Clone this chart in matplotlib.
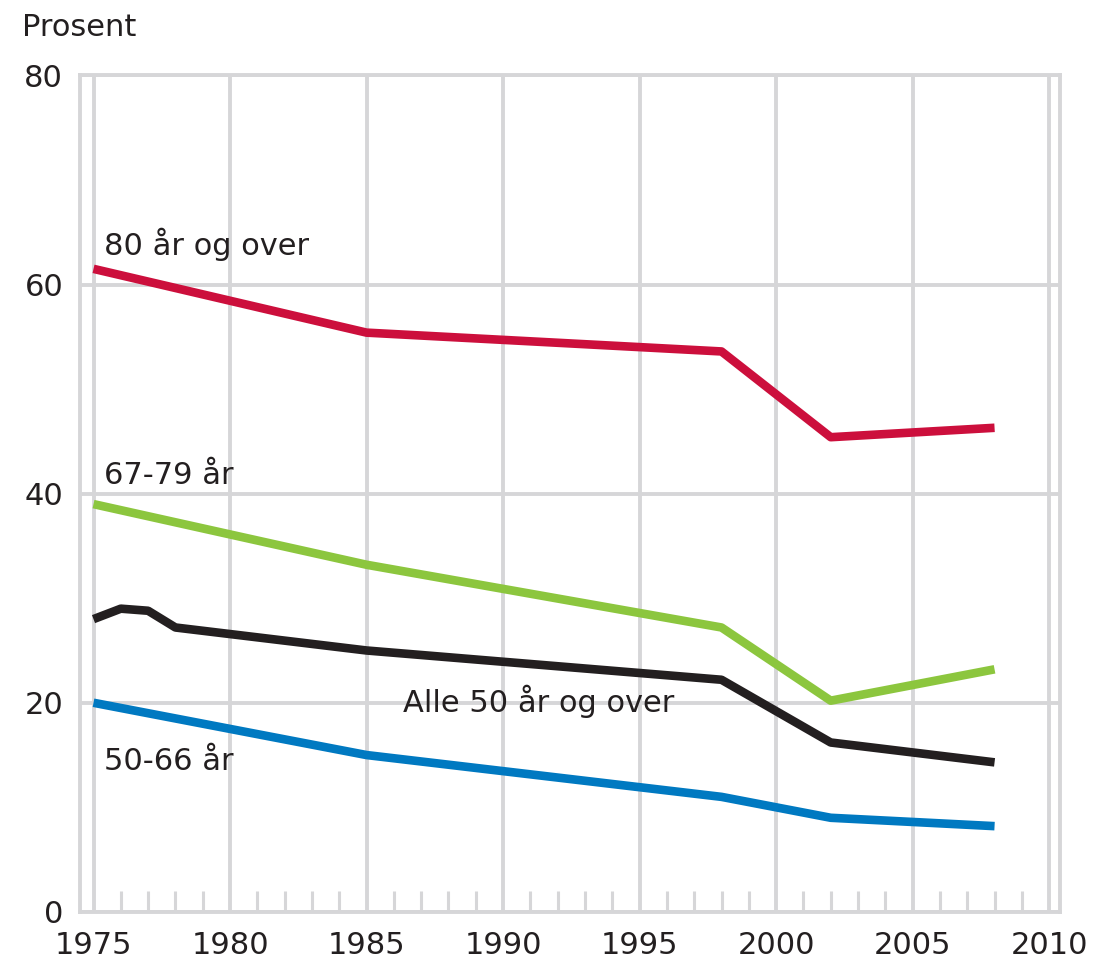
import numpy as np
import matplotlib.pyplot as plt
from matplotlib.ticker import MultipleLocator

# Data
years = [1975, 1985, 1998, 2002, 2008]
over80 = [61.5, 55.4, 53.6, 45.4, 46.3]
age67_79 = [39.0, 33.2, 27.2, 20.2, 23.2]
age50_66 = [20.0, 15.0, 11.0, 9.0, 8.2]

all_years = [1975, 1976, 1977, 1978, 1985, 1998, 2002, 2008]
all50 = [28.0, 29.0, 28.8, 27.2, 25.0, 22.2, 16.2, 14.3]

labels = ["80 år og over", "67-79 år", "Alle 50 år og over", "50-66 år"]

txt_color = '#231f20'
grid_color = '#d6d6d8'

fig = plt.figure(figsize=(10.94, 9.67), dpi=100)
ax = fig.add_axes([0.073, 0.057, 0.896, 0.865])

lw = 6.2
ax.plot(years, over80, color='#cc0f3c', lw=lw, solid_joinstyle='round', solid_capstyle='butt', zorder=3)
ax.plot(years, age67_79, color='#8cc63e', lw=lw, solid_joinstyle='round', solid_capstyle='butt', zorder=3)
ax.plot(all_years, all50, color='#231f20', lw=lw, solid_joinstyle='round', solid_capstyle='butt', zorder=3)
ax.plot(years, age50_66, color='#0079c1', lw=lw, solid_joinstyle='round', solid_capstyle='butt', zorder=3)

fs = 22
ax.text(1975.4, 63.8, labels[0], fontsize=fs, color=txt_color, va='center', ha='left')
ax.text(1975.4, 41.7, labels[1], fontsize=fs, color=txt_color, va='center', ha='left')
ax.text(1986.35, 20.1, labels[2], fontsize=fs, color=txt_color, va='center', ha='left')
ax.text(1975.4, 14.4, labels[3], fontsize=fs, color=txt_color, va='center', ha='left')

ax.set_xlim(1974.5, 2010.4)
ax.set_ylim(0, 80)
ax.xaxis.set_major_locator(MultipleLocator(5))
ax.xaxis.set_minor_locator(MultipleLocator(1))
ax.yaxis.set_major_locator(MultipleLocator(20))

ax.grid(True, which='major', color=grid_color, lw=2.8, zorder=1)
ax.set_axisbelow(True)
for s in ax.spines.values():
    s.set_color(grid_color)
    s.set_linewidth(2.8)

ax.tick_params(axis='both', which='major', length=0, labelsize=fs, labelcolor=txt_color)
ax.tick_params(axis='x', which='major', pad=14)
ax.tick_params(axis='y', which='major', pad=12)
ax.tick_params(axis='x', which='minor', direction='in', length=15, width=2.2, color=grid_color)

fig.text(0.02, 0.972, "Prosent", fontsize=fs, color=txt_color, va='center', ha='left')

fig.savefig('out.png', dpi=100)
